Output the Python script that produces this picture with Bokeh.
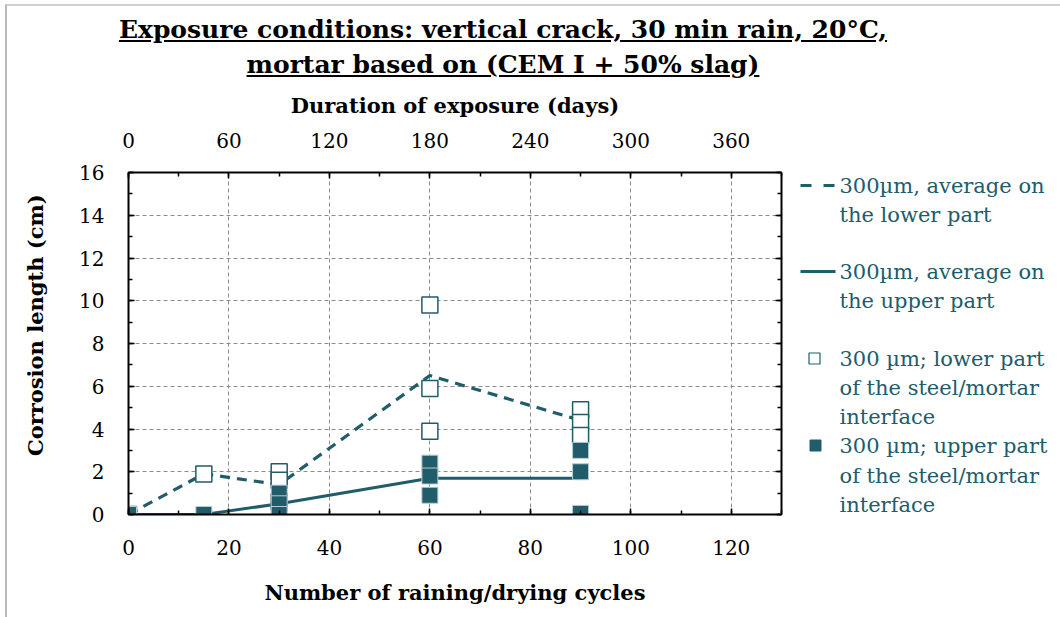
from bokeh.plotting import figure
from bokeh.models import (Range1d, LinearAxis, Div, FixedTicker, Grid)
from bokeh.layouts import column, row
from bokeh.core.properties import value
from bokeh.embed import file_html
from bokeh.resources import INLINE

# ---------------- data ----------------
cycles_avg = [0, 15, 30, 60, 90]
avg_lower = [0.0, 1.9, 1.4, 6.5, 4.4]
avg_upper = [0.0, 0.0, 0.5, 1.7, 1.7]

lower_cycles = [0, 15, 30, 30, 30, 60, 60, 60, 90, 90, 90]
lower_values = [0.0, 1.9, 2.0, 1.6, 0.6, 9.8, 5.9, 3.9, 4.9, 4.3, 3.7]

upper_cycles = [0, 15, 30, 30, 30, 60, 60, 60, 90, 90, 90]
upper_values = [0.0, 0.0, 1.0, 0.5, 0.0, 2.4, 1.8, 0.9, 3.0, 2.0, 0.05]

x_ticks = [0, 20, 40, 60, 80, 100, 120]
day_ticks = [0, 60, 120, 180, 240, 300, 360]
y_ticks = [0, 2, 4, 6, 8, 10, 12, 14, 16]

title_lines = ["Exposure conditions: vertical crack, 30 min rain, 20°C,",
               "mortar based on (CEM I + 50% slag)"]
legend_labels = [["300µm, average on", "the lower part"],
                 ["300µm, average on", "the upper part"],
                 ["300 µm; lower part", "of the steel/mortar", "interface"],
                 ["300 µm; upper part", "of the steel/mortar", "interface"]]

TEAL = "#215C6A"
FONT = "DejaVu Serif"

# ---------------- title ----------------
title = Div(
    text=("<div style=\"position:absolute;left:5px;top:4px;width:1200px;height:700px;"
          "border-top:2px solid #cfcfcf;border-left:2px solid #b9b9b9;z-index:10;"
          "pointer-events:none;\"></div>"
          "<div style=\"width:1006px;text-align:center;font-family:'%s';font-weight:bold;"
          "font-size:25px;line-height:35px;text-decoration:underline;color:#000;\">"
          "%s<br>%s</div>") % (FONT, title_lines[0], title_lines[1]),
    width=1006, height=84,
    styles={"margin": "0", "padding-top": "12px", "overflow": "visible",
            "z-index": "10"})

# ---------------- main figure ----------------
p = figure(x_range=Range1d(0, 130), y_range=Range1d(0, 16),
           frame_width=653, frame_height=342,
           min_border_left=128, min_border_top=88, min_border_bottom=95,
           min_border_right=12,
           output_backend="svg", toolbar_location=None,
           x_axis_type=None, y_axis_type=None,
           background_fill_color="white", border_fill_color="white")
p.outline_line_color = None
p.extra_x_ranges = {"days": Range1d(0, 390)}


def style_axis(ax, show_labels=True):
    ax.axis_line_color = "black"
    ax.axis_line_width = 2
    ax.major_tick_in = 6
    ax.major_tick_out = 0
    ax.minor_tick_in = 4
    ax.minor_tick_out = 0
    ax.major_tick_line_color = "black"
    ax.minor_tick_line_color = "black"
    ax.major_tick_line_width = 1.5
    ax.minor_tick_line_width = 1.5
    ax.major_label_text_font = FONT
    ax.major_label_text_font_size = "20px"
    ax.major_label_text_color = "black" if show_labels else None
    ax.axis_label_text_font = FONT
    ax.axis_label_text_font_style = "bold"
    ax.axis_label_text_font_size = "21px"
    ax.axis_label_text_color = "black"


xb = LinearAxis(axis_label="Number of raining/drying cycles")
xb.ticker = FixedTicker(ticks=x_ticks, minor_ticks=list(range(0, 131, 10)))
style_axis(xb)
xb.major_label_standoff = 25
xb.axis_label_standoff = 22
p.add_layout(xb, "below")

xt = LinearAxis(x_range_name="days", axis_label="Duration of exposure (days)")
xt.ticker = FixedTicker(ticks=day_ticks, minor_ticks=list(range(0, 391, 30)))
style_axis(xt)
xt.major_label_standoff = 25
xt.axis_label_standoff = 12
p.add_layout(xt, "above")

yl = LinearAxis(axis_label="\u00a0" * 5 + "Corrosion length (cm)")
yl.ticker = FixedTicker(ticks=y_ticks, minor_ticks=list(range(0, 17)))
style_axis(yl)
yl.major_label_standoff = 24
yl.axis_label_standoff = 28
p.add_layout(yl, "left")

yr = LinearAxis()
yr.ticker = FixedTicker(ticks=y_ticks, minor_ticks=list(range(0, 17)))
style_axis(yr, show_labels=False)
yr.major_label_text_font_size = "0px"
yr.major_label_standoff = 0
p.add_layout(yr, "right")

gx = Grid(dimension=0, ticker=FixedTicker(ticks=x_ticks[1:]),
          grid_line_color="#8c8c8c", grid_line_dash="4 3", grid_line_width=1)
gy = Grid(dimension=1, ticker=FixedTicker(ticks=y_ticks[1:]),
          grid_line_color="#8c8c8c", grid_line_dash="4 3", grid_line_width=1)
p.add_layout(gx)
p.add_layout(gy)

p.line(cycles_avg, avg_lower, line_color=TEAL, line_width=3.2, line_dash="10 7")
p.line(cycles_avg, avg_upper, line_color=TEAL, line_width=3)
p.scatter(lower_cycles, lower_values, marker="square", size=16,
          fill_color="white", line_color=TEAL, line_width=1.5)
p.scatter(upper_cycles, upper_values, marker="square", size=16,
          fill_color=TEAL, line_color="#B7CCD2", line_width=1)

# ---------------- legend panel (pixel-like coordinates) ----------------
leg = figure(x_range=Range1d(793, 1055), y_range=Range1d(514, 172),
             frame_width=262, frame_height=342,
             min_border_left=0, min_border_right=0,
             min_border_top=88, min_border_bottom=95,
             output_backend="svg", toolbar_location=None,
             x_axis_type=None, y_axis_type=None)
leg.outline_line_color = None
leg.grid.visible = False

line_ys = [[185, 214], [271, 300], [358, 387, 416], [445, 475, 504]]
text_x = 839
for labels, ys in zip(legend_labels, line_ys):
    leg.text(x=[text_x] * len(labels), y=ys, text=labels,
             text_font=value(FONT), text_font_size=value("21px"),
             text_color=TEAL, text_baseline="middle", text_align="left")

leg.line([800, 834], [185, 185], line_color=TEAL, line_width=3,
         line_dash="11 12")
leg.line([800, 835], [271, 271], line_color=TEAL, line_width=3)
leg.scatter([814], [358], marker="square", size=11, fill_color="white",
            line_color=TEAL, line_width=1.2)
leg.scatter([815], [445], marker="square", size=11, fill_color=TEAL,
            line_color=TEAL, line_width=1)

layout = column(title, row(p, leg, spacing=0), spacing=0)

open("out.html", "w").write(file_html(layout, INLINE))
